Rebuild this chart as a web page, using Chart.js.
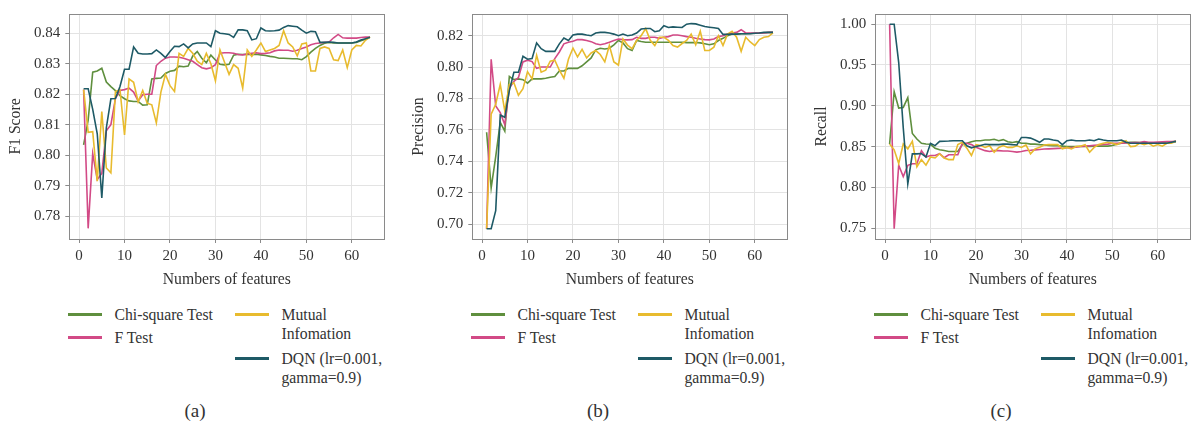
<!DOCTYPE html>
<html>
<head>
<meta charset="utf-8">
<script src="https://cdn.jsdelivr.net/npm/chart.js@4.4.1/dist/chart.umd.min.js"></script>
<style>
  body { margin: 0; background: #fff; width: 1199px; height: 426px; position: relative; overflow: hidden;
         font-family: 'Liberation Serif', 'DejaVu Serif', serif; color: #333; }
  .panel { position: absolute; top: 0; height: 300px; }
  .leg { position: absolute; font-size: 15.7px; line-height: 19px; white-space: nowrap; }
  .sw { position: absolute; width: 34px; height: 3px; }
  .cap { position: absolute; top: 400px; font-size: 19px; transform: translateX(-50%); }
</style>
</head>
<body>
<div class="panel" id="pa" style="left:0px;width:400px"><canvas id="ca"></canvas></div>
<div class="panel" id="pb" style="left:403px;width:400px"><canvas id="cb"></canvas></div>
<div class="panel" id="pc" style="left:806px;width:393px"><canvas id="cc"></canvas></div>
<script>
// number of selected features (x axis)
var features = [1,2,3,4,5,6,7,8,9,10,11,12,13,14,15,16,17,18,19,20,21,22,23,24,25,26,27,28,29,30,31,32,
  33,34,35,36,37,38,39,40,41,42,43,44,45,46,47,48,49,50,51,52,53,54,55,56,57,58,59,60,61,62,63,64];

var seriesNames = ['Chi-square Test', 'F Test', 'Mutual Infomation', 'DQN (lr=0.001, gamma=0.9)'];
var legendLines = [['Chi-square Test'], ['F Test'], ['Mutual', 'Infomation'], ['DQN (lr=0.001,', 'gamma=0.9)']];
var colors = ['#5f8f3e', '#d24a86', '#e8bb2e', '#1e5a66'];

var xTicks = [0, 10, 20, 30, 40, 50, 60];
var f1Ticks = [0.78, 0.79, 0.80, 0.81, 0.82, 0.83, 0.84];
var precTicks = [0.70, 0.72, 0.74, 0.76, 0.78, 0.80, 0.82];
var recallTicks = [0.75, 0.80, 0.85, 0.90, 0.95, 1.00];

// (a) F1 score
var f1Chi = [0.8034,0.8115,0.8272,0.8276,0.8285,0.8240,0.8225,0.8212,0.8195,0.8185,0.8178,0.8176,0.8176,0.8164,0.8165,0.8250,
  0.8252,0.8253,0.8268,0.8275,0.8278,0.8292,0.8290,0.8292,0.8325,0.8340,0.8318,0.8303,0.8328,0.8312,0.8298,0.8296,
  0.8298,0.8328,0.8331,0.8330,0.8331,0.8330,0.8331,0.8329,0.8327,0.8324,0.8322,0.8318,0.8318,0.8317,0.8316,0.8316,
  0.8313,0.8323,0.8338,0.8350,0.8360,0.8367,0.8370,0.8368,0.8368,0.8368,0.8368,0.8368,0.8370,0.8375,0.8380,0.8387];
var f1F = [0.8215,0.7760,0.8005,0.7920,0.7940,0.8080,0.8100,0.8186,0.8212,0.8215,0.8220,0.8207,0.8178,0.8198,0.8200,0.8200,
  0.8294,0.8308,0.8318,0.8322,0.8322,0.8321,0.8318,0.8313,0.8308,0.8297,0.8287,0.8283,0.8287,0.8297,0.8334,0.8336,
  0.8336,0.8334,0.8330,0.8329,0.8332,0.8334,0.8336,0.8333,0.8334,0.8336,0.8342,0.8345,0.8344,0.8344,0.8341,0.8344,
  0.8350,0.8355,0.8362,0.8366,0.8368,0.8370,0.8371,0.8385,0.8396,0.8385,0.8384,0.8384,0.8384,0.8386,0.8387,0.8387];
var f1Mutual = [0.8215,0.8075,0.8077,0.7915,0.8143,0.7958,0.7942,0.8209,0.8215,0.8066,0.8250,0.8239,0.8175,0.8212,0.8170,0.8165,
  0.8106,0.8207,0.8265,0.8228,0.8209,0.8334,0.8324,0.8350,0.8334,0.8308,0.8297,0.8334,0.8300,0.8244,0.8345,0.8305,
  0.8265,0.8297,0.8285,0.8220,0.8345,0.8324,0.8345,0.8368,0.8340,0.8345,0.8350,0.8360,0.8408,0.8368,0.8355,0.8326,
  0.8365,0.8368,0.8276,0.8276,0.8350,0.8355,0.8350,0.8313,0.8310,0.8345,0.8287,0.8345,0.8360,0.8358,0.8377,0.8387];
var f1Dqn = [0.8218,0.8218,0.8150,0.8070,0.7860,0.8090,0.8185,0.8186,0.8225,0.8282,0.8282,0.8355,0.8334,0.8332,0.8332,0.8333,
  0.8345,0.8334,0.8320,0.8340,0.8357,0.8356,0.8365,0.8352,0.8365,0.8368,0.8368,0.8368,0.8356,0.8408,0.8400,0.8398,
  0.8396,0.8386,0.8411,0.8411,0.8408,0.8378,0.8382,0.8417,0.8408,0.8407,0.8408,0.8410,0.8419,0.8425,0.8423,0.8421,
  0.8410,0.8400,0.8406,0.8405,0.8370,0.8370,0.8371,0.8370,0.8368,0.8368,0.8368,0.8368,0.8371,0.8378,0.8382,0.8387];

// (b) precision
var precChi = [0.7585,0.7231,0.7429,0.7648,0.7592,0.7940,0.7920,0.7925,0.7920,0.7898,0.7925,0.7925,0.7925,0.7929,0.7935,0.7940,
  0.7975,0.7975,0.7992,0.7992,0.7992,0.8008,0.8033,0.8058,0.8110,0.8120,0.8115,0.8120,0.8142,0.8169,0.8154,0.8117,
  0.8106,0.8169,0.8163,0.8158,0.8158,0.8158,0.8158,0.8158,0.8158,0.8158,0.8158,0.8158,0.8156,0.8156,0.8156,0.8154,
  0.8148,0.8142,0.8148,0.8169,0.8183,0.8200,0.8210,0.8210,0.8212,0.8212,0.8214,0.8215,0.8217,0.8219,0.8220,0.8221];
var precF = [0.6970,0.8050,0.7752,0.7710,0.7633,0.7867,0.7908,0.7933,0.8033,0.8044,0.8035,0.7992,0.8000,0.8000,0.8000,0.8054,
  0.8096,0.8148,0.8158,0.8165,0.8175,0.8175,0.8169,0.8162,0.8148,0.8142,0.8148,0.8158,0.8169,0.8179,0.8175,0.8173,
  0.8175,0.8190,0.8183,0.8183,0.8190,0.8190,0.8183,0.8190,0.8194,0.8204,0.8204,0.8200,0.8194,0.8190,0.8183,0.8179,
  0.8175,0.8173,0.8179,0.8194,0.8200,0.8210,0.8217,0.8221,0.8238,0.8217,0.8217,0.8217,0.8217,0.8217,0.8221,0.8221];
var precMutual = [0.6970,0.7700,0.7763,0.7890,0.7720,0.7888,0.7900,0.7821,0.7862,0.7971,0.7925,0.8075,0.7967,0.7980,0.8037,0.8044,
  0.7980,0.7929,0.8050,0.8121,0.8065,0.8113,0.8058,0.8090,0.8105,0.8080,0.8033,0.8137,0.8033,0.8013,0.8179,0.8140,
  0.8117,0.8169,0.8200,0.8245,0.8170,0.8137,0.8190,0.8190,0.8170,0.8137,0.8127,0.8150,0.8169,0.8210,0.8142,0.8228,
  0.8106,0.8106,0.8127,0.8200,0.8137,0.8210,0.8228,0.8190,0.8100,0.8190,0.8160,0.8137,0.8175,0.8190,0.8194,0.8217];
var precDqn = [0.6970,0.6970,0.7085,0.7694,0.7680,0.7850,0.7967,0.7967,0.8069,0.8050,0.8054,0.8154,0.8117,0.8100,0.8100,0.8100,
  0.8148,0.8185,0.8169,0.8204,0.8210,0.8210,0.8204,0.8200,0.8217,0.8221,0.8221,0.8217,0.8210,0.8200,0.8210,0.8200,
  0.8204,0.8217,0.8242,0.8246,0.8246,0.8225,0.8231,0.8263,0.8252,0.8256,0.8254,0.8252,0.8273,0.8277,0.8275,0.8267,
  0.8258,0.8254,0.8250,0.8246,0.8208,0.8208,0.8210,0.8210,0.8212,0.8212,0.8212,0.8215,0.8217,0.8221,0.8221,0.8221];

// (c) recall
var recallChi = [0.8532,0.9172,0.8972,0.8980,0.9100,0.8660,0.8592,0.8540,0.8532,0.8528,0.8480,0.8460,0.8452,0.8440,0.8440,0.8440,
  0.8524,0.8540,0.8560,0.8572,0.8572,0.8580,0.8580,0.8590,0.8572,0.8585,0.8560,0.8550,0.8560,0.8540,0.8540,0.8530,
  0.8530,0.8524,0.8520,0.8515,0.8512,0.8510,0.8505,0.8500,0.8500,0.8500,0.8500,0.8500,0.8502,0.8505,0.8505,0.8505,
  0.8505,0.8512,0.8530,0.8540,0.8548,0.8552,0.8552,0.8548,0.8545,0.8545,0.8540,0.8540,0.8545,0.8550,0.8555,0.8564];
var recallF = [1.0000,0.7492,0.8272,0.8132,0.8270,0.8290,0.8290,0.8450,0.8372,0.8390,0.8390,0.8412,0.8364,0.8400,0.8400,0.8400,
  0.8540,0.8540,0.8524,0.8492,0.8470,0.8450,0.8440,0.8450,0.8450,0.8445,0.8445,0.8440,0.8432,0.8440,0.8452,0.8455,
  0.8460,0.8465,0.8470,0.8472,0.8475,0.8478,0.8480,0.8485,0.8488,0.8492,0.8500,0.8505,0.8510,0.8515,0.8520,0.8525,
  0.8530,0.8540,0.8540,0.8542,0.8545,0.8545,0.8548,0.8550,0.8560,0.8552,0.8552,0.8555,0.8558,0.8560,0.8562,0.8564];
var recallMutual = [0.8532,0.8460,0.8292,0.8532,0.8472,0.8564,0.8252,0.8340,0.8272,0.8372,0.8360,0.8412,0.8360,0.8340,0.8340,0.8524,
  0.8552,0.8480,0.8390,0.8524,0.8512,0.8490,0.8510,0.8430,0.8490,0.8512,0.8490,0.8490,0.8510,0.8490,0.8520,0.8412,
  0.8472,0.8490,0.8520,0.8524,0.8524,0.8524,0.8472,0.8490,0.8472,0.8500,0.8505,0.8524,0.8430,0.8490,0.8524,0.8540,
  0.8552,0.8540,0.8524,0.8552,0.8572,0.8500,0.8505,0.8540,0.8524,0.8540,0.8505,0.8524,0.8505,0.8540,0.8540,0.8564];
var recallDqn = [1.0000,1.0000,0.9530,0.8730,0.8044,0.8410,0.8410,0.8415,0.8372,0.8540,0.8512,0.8564,0.8566,0.8568,0.8572,0.8572,
  0.8572,0.8510,0.8485,0.8500,0.8512,0.8528,0.8524,0.8524,0.8524,0.8530,0.8530,0.8524,0.8520,0.8612,0.8612,0.8604,
  0.8580,0.8552,0.8592,0.8592,0.8580,0.8572,0.8524,0.8572,0.8580,0.8572,0.8572,0.8572,0.8580,0.8572,0.8592,0.8580,
  0.8572,0.8572,0.8572,0.8580,0.8552,0.8540,0.8540,0.8540,0.8540,0.8540,0.8540,0.8540,0.8540,0.8540,0.8552,0.8564];

var FONT = "'Liberation Serif', 'DejaVu Serif', serif";
var PLOT_LEFT = 69.3, PLOT_W = 315;

// grey frame round the plot area, like the matplotlib spines
var framePlugin = {
  id: 'frame',
  afterDatasetsDraw: function (chart) {
    var a = chart.chartArea, ctx = chart.ctx;
    ctx.save();
    ctx.strokeStyle = '#8a8a8a';
    ctx.lineWidth = 1;
    ctx.strokeRect(Math.round(a.left) + 0.5, Math.round(a.top) + 0.5,
      Math.round(a.right - a.left), Math.round(a.bottom - a.top));
    ctx.restore();
  }
};

function makeChart(canvasId, width, yTitle, yMin, yMax, yTicks, values) {
  var order = [3, 2, 1, 0];
  var datasets = values.map(function (v, i) {
    return {
      label: seriesNames[i],
      data: v,
      borderColor: colors[i],
      backgroundColor: colors[i],
      borderWidth: 1.6,
      pointRadius: 0,
      tension: 0,
      order: order[i]
    };
  });
  return new Chart(document.getElementById(canvasId), {
    type: 'line',
    data: { labels: features, datasets: datasets },
    plugins: [framePlugin],
    options: {
      responsive: true,
      maintainAspectRatio: false,
      animation: false,
      devicePixelRatio: 1,
      events: [],
      layout: { padding: { top: 10.7, left: 0, bottom: 0, right: width - PLOT_LEFT - PLOT_W } },
      plugins: { legend: { display: false }, tooltip: { enabled: false } },
      scales: {
        x: {
          type: 'linear',
          min: -2.15,
          max: 67.15,
          afterBuildTicks: function (s) { s.ticks = xTicks.map(function (v) { return { value: v }; }); },
          afterFit: function (s) { s.height = 61; },
          grid: { color: '#e3e3e3', tickLength: 4, tickColor: '#8a8a8a' },
          border: { display: false },
          ticks: { font: { family: FONT, size: 15 }, color: '#333', padding: 4, maxRotation: 0 },
          title: { display: true, text: 'Numbers of features', font: { family: FONT, size: 15.7 }, color: '#333',
                   padding: { top: 0, bottom: 10.6 } }
        },
        y: {
          min: yMin,
          max: yMax,
          afterBuildTicks: function (s) { s.ticks = yTicks.map(function (v) { return { value: v }; }); },
          afterFit: function (s) { s.width = PLOT_LEFT; },
          grid: { color: '#e3e3e3', tickLength: 4, tickColor: '#8a8a8a' },
          border: { display: false },
          ticks: { font: { family: FONT, size: 15 }, color: '#333', padding: 5,
                   callback: function (v) { return Number(v).toFixed(2); } },
          title: { display: true, text: yTitle, font: { family: FONT, size: 15.7 }, color: '#333',
                   padding: { top: 6.3, bottom: 0 } }
        }
      }
    }
  });
}

makeChart('ca', 400, 'F1 Score', 0.7725, 0.8463, f1Ticks, [f1Chi, f1F, f1Mutual, f1Dqn]);
makeChart('cb', 400, 'Precision', 0.6905, 0.8338, precTicks, [precChi, precF, precMutual, precDqn]);
makeChart('cc', 393, 'Recall', 0.7367, 1.0125, recallTicks, [recallChi, recallF, recallMutual, recallDqn]);

// legends (two columns, like the matplotlib ones) and captions
var panelLefts = [0, 403, 806];
var captions = ['(a)', '(b)', '(c)'];
// column, first-line centre of each entry
var legendPos = [[0, 314], [0, 337], [1, 314], [1, 358]];
panelLefts.forEach(function (pl, p) {
  var plotLeft = pl + PLOT_LEFT;
  legendPos.forEach(function (pos, i) {
    var colX = Math.round(plotLeft - 1 + pos[0] * 167);
    var sw = document.createElement('div');
    sw.className = 'sw';
    sw.style.left = colX + 'px';
    sw.style.top = (pos[1] - 1) + 'px';
    sw.style.background = colors[i];
    document.body.appendChild(sw);
    var t = document.createElement('div');
    t.className = 'leg';
    t.style.left = (colX + 46.5) + 'px';
    t.style.top = (pos[1] - 9.5) + 'px';
    t.innerHTML = legendLines[i].join('<br>');
    document.body.appendChild(t);
  });
  var c = document.createElement('div');
  c.className = 'cap';
  c.style.left = (plotLeft + 125.7) + 'px';
  c.textContent = captions[p];
  document.body.appendChild(c);
});
</script>
</body>
</html>
